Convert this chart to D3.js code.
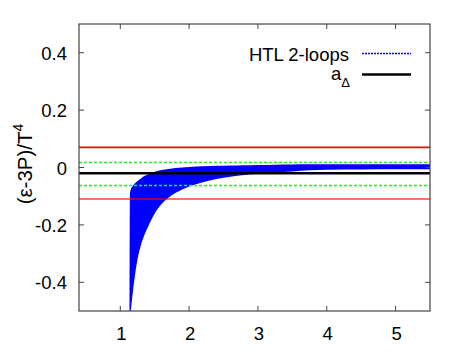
<!DOCTYPE html>
<html><head><meta charset="utf-8">
<script src="https://cdn.jsdelivr.net/npm/d3@7"></script>
<style>
html,body{margin:0;padding:0;background:#fff;}
text{font-family:"Liberation Sans",Arial,sans-serif;}
</style></head>
<body><svg id="c" width="463" height="354"></svg>
<script>
// ---- data ----
const xTicks = [1, 2, 3, 4, 5];
const yTicks = [-0.4, -0.2, 0, 0.2, 0.4];
const yTickLabels = ["-0.4", "-0.2", "0", "0.2", "0.4"];
const bandX    = [1.135, 1.14, 1.15, 1.17, 1.2, 1.25, 1.3, 1.35, 1.4, 1.5, 1.6, 1.7, 1.8, 1.9, 2.0, 2.2, 2.4, 2.6, 2.8, 3.0, 3.25, 3.5, 3.75, 4.0, 4.5, 5.0, 5.5];
const bandLow  = [-0.5, -0.5, -0.5, -0.46, -0.40, -0.32, -0.27, -0.235, -0.208, -0.16, -0.127, -0.105, -0.089, -0.077, -0.066, -0.051, -0.040, -0.032, -0.026, -0.022, -0.018, -0.014, -0.010, -0.008, -0.007, -0.006, -0.006];
const bandHigh = [-0.5, -0.095, -0.078, -0.068, -0.058, -0.047, -0.038, -0.030, -0.024, -0.015, -0.009, -0.005, -0.002, 0.0, 0.002, 0.004, 0.006, 0.007, 0.008, 0.009, 0.010, 0.0105, 0.011, 0.011, 0.011, 0.011, 0.011];
const redLevels = [0.07, -0.11];
const greenLevels = [0.02, -0.06];
const aDelta = -0.02;
const legendLabels = ["HTL 2-loops", "a", "Δ"];
const yLabelMain = "(ε-3P)/T", yLabelSup = "4";

// ---- layout ----
const svg = d3.select("#c");
const L = 79, R = 430, T = 24, B = 311;
const x = d3.scaleLinear().domain([0.4, 5.5]).range([L, R]);
const y = d3.scaleLinear().domain([-0.5, 0.5]).range([B, T]);
const fs = 18.5;

svg.append("clipPath").attr("id", "pc").append("rect")
  .attr("x", L).attr("y", T).attr("width", R - L).attr("height", B - T);
const g = svg.append("g").attr("clip-path", "url(#pc)");

// band
const band = bandX.map((v, i) => ({x: v, lo: bandLow[i], hi: bandHigh[i]}));
g.append("path").datum(band)
  .attr("d", d3.area().curve(d3.curveMonotoneX).x(d => x(d.x)).y0(d => y(d.lo)).y1(d => y(d.hi)))
  .attr("fill", "#0000ff");

// horizontal lines
const snap = v => Math.round(y(v)) + 0.5;
g.append("line").attr("x1", L).attr("x2", R)
  .attr("y1", y(redLevels[0])).attr("y2", y(redLevels[0])).attr("stroke", "#ff0000").attr("stroke-width", 1.6);
g.append("line").attr("x1", L).attr("x2", R)
  .attr("y1", Math.round(y(redLevels[1]))).attr("y2", Math.round(y(redLevels[1]))).attr("stroke", "#ff0000")
  .attr("stroke-width", 1.4).attr("stroke-opacity", 0.75);
greenLevels.forEach(v => g.append("line").attr("x1", L).attr("x2", R)
  .attr("y1", snap(v)).attr("y2", snap(v)).attr("stroke", "#22ee22").attr("stroke-width", 1.3)
  .attr("stroke-dasharray", "3,2"));
g.append("line").attr("x1", L).attr("x2", R).attr("y1", y(aDelta)).attr("y2", y(aDelta))
  .attr("stroke", "#000").attr("stroke-width", 2.5);

// axes (ticks inward on all sides)
const tl = 5;
const ax = svg.append("g");
xTicks.forEach(t => {
  ax.append("line").attr("x1", x(t)).attr("x2", x(t)).attr("y1", B).attr("y2", B - tl).attr("stroke", "#444");
  ax.append("line").attr("x1", x(t)).attr("x2", x(t)).attr("y1", T).attr("y2", T + tl).attr("stroke", "#444");
  ax.append("text").attr("x", x(t) + 1).attr("y", 340).attr("text-anchor", "middle")
    .attr("font-size", fs).text(t);
});
yTicks.forEach((t, i) => {
  ax.append("line").attr("x1", L).attr("x2", L + tl).attr("y1", y(t)).attr("y2", y(t)).attr("stroke", "#444");
  ax.append("line").attr("x1", R).attr("x2", R - tl).attr("y1", y(t)).attr("y2", y(t)).attr("stroke", "#444");
  ax.append("text").attr("x", 67).attr("y", y(t) + 7).attr("text-anchor", "end")
    .attr("font-size", fs).text(yTickLabels[i]);
});
ax.append("rect").attr("x", L).attr("y", T).attr("width", R - L).attr("height", B - T)
  .attr("fill", "none").attr("stroke", "#444").attr("stroke-width", 1.2);

// y label
const yl = svg.append("text").attr("transform", "translate(32,164) rotate(-90)")
  .attr("text-anchor", "middle").attr("font-size", 20.5);
yl.append("tspan").text(yLabelMain);
yl.append("tspan").attr("font-size", 14).attr("dy", -9).text(yLabelSup);

// legend
svg.append("text").attr("x", 349).attr("y", 60.5).attr("text-anchor", "end")
  .attr("font-size", fs).text(legendLabels[0]);
svg.append("line").attr("x1", 362).attr("x2", 411).attr("y1", 53.5).attr("y2", 53.5)
  .attr("stroke", "#0000ff").attr("stroke-width", 1.3).attr("stroke-dasharray", "2,1");
const la = svg.append("text").attr("x", 350).attr("y", 80).attr("text-anchor", "end").attr("font-size", fs);
la.append("tspan").text(legendLabels[1]);
la.append("tspan").attr("font-size", 13).attr("dy", 7).text(legendLabels[2]);
svg.append("line").attr("x1", 362).attr("x2", 411).attr("y1", 74.5).attr("y2", 74.5)
  .attr("stroke", "#000").attr("stroke-width", 2.5);
</script></body></html>
